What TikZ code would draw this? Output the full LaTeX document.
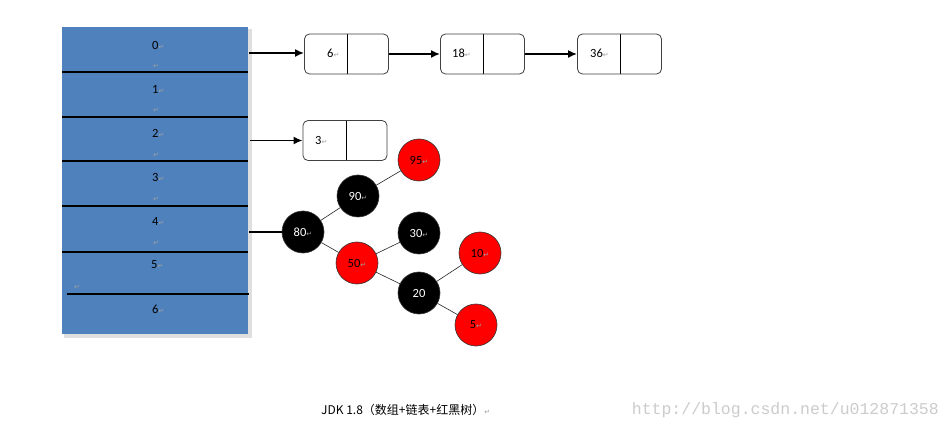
\documentclass[tikz,border=0pt]{standalone}
\usepackage{fontspec}
\setmainfont{Carlito}
\newfontfamily\cjkfont{Noto Sans CJK SC}
\newfontfamily\monofont{Liberation Mono}
\newfontfamily\symfont{DejaVu Sans}
\usetikzlibrary{arrows.meta}
\definecolor{cellblue}{HTML}{4F81BD}
\definecolor{boxline}{HTML}{404040}
\definecolor{markgray}{HTML}{A0A0A0}
\definecolor{wmgray}{HTML}{CCCCCC}
\newcommand{\pmark}{{\symfont\color{markgray}\fontsize{7}{7}\selectfont ↵}}
\tikzset{
  arraybox/.style={draw=none, fill=cellblue, minimum width=186pt, minimum height=307pt, inner sep=0pt},
  sepline/.style={line width=1.6pt, black},
  idx/.style={anchor=west, inner sep=0pt, font=\fontsize{12.5}{14}\selectfont},
  pm/.style={inner sep=0pt, font=\symfont\fontsize{7}{7}\selectfont, text=markgray},
  listbox/.style={draw=boxline, line width=0.8pt, rounded corners=5pt, minimum width=84pt, minimum height=40pt, inner sep=0pt,
    path picture={\draw[black, line width=0.8pt] ([xshift=1pt]path picture bounding box.north) -- ([xshift=1pt]path picture bounding box.south);}},
  lab/.style={anchor=west, inner sep=0pt, font=\fontsize{12.5}{14}\selectfont},
  ptr/.style={line width=1.8pt, -{Latex[length=9pt,width=8pt]}},
  rb/.style={circle, draw=black!80, line width=0.6pt, minimum size=42pt, inner sep=0pt, font=\fontsize{12.5}{14}\selectfont},
  redn/.style={rb, fill=red, text=black},
  blackn/.style={rb, fill=black, text=white},
  edge/.style={line width=0.6pt, black!85},
}
\begin{document}
\begin{tikzpicture}[x=1pt,y=-1pt]
\useasboundingbox (0,0) rectangle (950,430);
\fill[white] (0,0) rectangle (950,430);
% array with shadow
\fill[gray!25] (64,29) rectangle (252,338);
\node[arraybox] (arr) at (155,180.5) {};
\draw[sepline] (62,72) -- (248,72);
\draw[sepline] (62,117) -- (248,117);
\draw[sepline] (62,161) -- (248,161);
\draw[sepline] (62,206) -- (248,206);
\draw[sepline] (62,252) -- (248,252);
\draw[sepline] (67,294) -- (249,294);
\node[idx] (i0) at (152,45) {0\pmark};
\node[idx] (i1) at (152,89) {1\pmark};
\node[idx] (i2) at (152,133) {2\pmark};
\node[idx] (i3) at (152,177) {3\pmark};
\node[idx] (i4) at (152,221) {4\pmark};
\node[idx] (i5) at (151,265) {5\pmark};
\node[idx] (i6) at (152,309) {6\pmark};
\node[pm] (m0) at (156,66) {↵};
\node[pm] (m1) at (156,110) {↵};
\node[pm] (m2) at (156,155) {↵};
\node[pm] (m3) at (156,199) {↵};
\node[pm] (m4) at (156,243) {↵};
\node[pm] (m5) at (77,287) {↵};
% linked lists
\node[listbox] (n6) at (346.5,54) {};
\node[listbox] (n18) at (482.5,54) {};
\node[listbox] (n36) at (619.5,54) {};
\node[listbox] (n3) at (345,140.5) {};
\node[lab] (l6) at (327,53) {6\pmark};
\node[lab] (l18) at (452,53) {18\pmark};
\node[lab] (l36) at (590,53) {36\pmark};
\node[lab] (l3) at (315,140) {3\pmark};
\coordinate (a0) at (249,53);
\coordinate (a2) at (250,140.5);
\coordinate (a4) at (249,232);
\draw[ptr] (a0) -- (a0 -| n6.west);
\draw[ptr] (n6.east) -- (n18.west);
\draw[ptr] (n18.east) -- (n36.west);
\draw[ptr] (a2) -- (a2 -| n3.west);
% red-black tree
\node[blackn] (t80) at (303,232) {80\pmark};
\node[blackn] (t90) at (358,196) {90\pmark};
\node[redn]   (t95) at (419,160) {95\pmark};
\node[redn]   (t50) at (357,263) {50\pmark};
\node[blackn] (t30) at (419,233) {30\pmark};
\node[blackn] (t20) at (419,293) {20};
\node[redn]   (t10) at (480,253) {10\pmark};
\node[redn]   (t5)  at (476,325) {5\pmark};
\draw[line width=1.2pt] (a4) -- (t80);
\draw[edge] (t80) -- (t90);
\draw[edge] (t90) -- (t95);
\draw[edge] (t80) -- (t50);
\draw[edge] (t50) -- (t30);
\draw[edge] (t50) -- (t20);
\draw[edge] (t20) -- (t10);
\draw[edge] (t20) -- (t5);
% captions
\node[anchor=west, inner sep=0pt] (cap) at (321,410) {\cjkfont\fontsize{12}{14}\selectfont JDK 1.8（数组+链表+红黑树）\pmark};
\node[anchor=east, inner sep=0pt, text=wmgray] (wm) at (939,410) {\monofont\fontsize{16.5}{18}\selectfont http://blog.csdn.net/u012871358};
\end{tikzpicture}
\end{document}
